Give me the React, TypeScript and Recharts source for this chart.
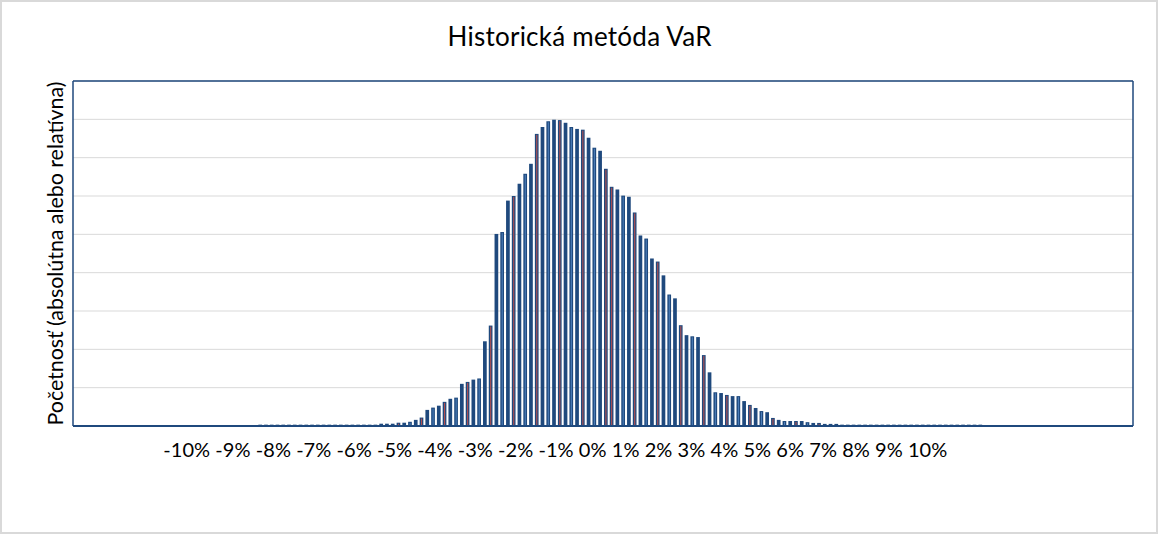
import React from 'react';
import { BarChart, Bar, XAxis, YAxis, CartesianGrid } from 'recharts';

// Frequency per return bin (one gridline = 10 units)
const frequencies: number[] = [
  0, 0, 0, 0, 0, 0, 0, 0, 0, 0, 0, 0, 0, 0, 0, 0,
  0, 0, 0, 0, 0, 0, 0, 0, 0, 0, 0, 0, 0, 0, 0, 0,
  0.35, 0.35, 0.35, 0.35, 0.35, 0.35, 0.35, 0.35, 0.35, 0.35, 0.35,
  0.35, 0.35, 0.35, 0.35, 0.35, 0.35, 0.35, 0.35, 0.35, 0.35,
  0.6, 0.6, 0.6, 0.86, 0.86, 1.1, 1.6, 2.2, 4.2, 4.8, 5.3, 6.3, 7.1, 7.4, 11.0, 11.5,
  12.1, 12.4, 22.1, 26.2, 50.1, 50.6, 58.8, 60.0, 63.2, 65.8, 68.4, 76.2, 78.0, 79.5, 79.9, 79.8,
  79.1, 78.0, 77.5, 77.3, 75.2, 72.6, 71.8, 67.1, 62.4, 61.7, 60.1, 59.8, 55.7, 49.7, 48.9,
  43.7, 42.9, 39.3, 34.3, 33.3, 26.3, 23.7, 23.4, 23.2, 18.5, 14.0, 8.8, 8.6, 8.1, 7.8, 7.8,
  6.5, 5.5, 4.7, 3.9, 3.6, 2.1, 1.6, 1.3, 1.3, 1.3, 1.3, 1.0, 0.8, 0.8, 0.55, 0.55, 0.55,
  0.35, 0.35, 0.35, 0.35, 0.35, 0.35, 0.35, 0.35, 0.35, 0.35, 0.35, 0.35, 0.35,
  0.35, 0.35, 0.35, 0.35, 0.35, 0.35, 0.35, 0.35, 0.35, 0.35, 0.35, 0.35,
  0, 0, 0, 0, 0, 0, 0, 0, 0, 0, 0, 0, 0,
  0, 0, 0, 0, 0, 0, 0, 0, 0, 0, 0, 0, 0,
];

const tickLabels: string[] = [
  '-10%', '-9%', '-8%', '-7%', '-6%', '-5%', '-4%', '-3%', '-2%', '-1%',
  '0%', '1%', '2%', '3%', '4%', '5%', '6%', '7%', '8%', '9%', '10%',
];

const gridTicks: number[] = [0, 10, 20, 30, 40, 50, 60, 70, 80, 90];

const categories: string[] = frequencies.map((_, i) => `bin${i + 1}`);
const chartData = categories.map((bin, i) => ({ bin, freq: frequencies[i] }));

const FONT = "Lato, 'Noto Sans', sans-serif";
const NAVY = '#1F497D';

const BarShape = (props: any) => {
  const { x, y, width, height, index } = props;
  if (!height || height <= 0) return null;
  const phase = (index - 72) / 4.1;
  const d = Math.abs(phase - Math.round(phase));
  let stripe: string | null = null;
  if (d < 0.13) stripe = '#C0504D';
  else if (Math.abs(d - 0.5) < 0.13) stripe = '#4F81BD';
  return (
    <g>
      <rect x={x} y={y} width={width} height={height} fill={NAVY} />
      {stripe && height > 3 ? (
        <rect x={x + width * 0.38} y={y + 1} width={1} height={height - 1} fill={stripe} />
      ) : null}
    </g>
  );
};

const NoTick = () => null;

const LabelRow = (props: any) => {
  const { x, y } = props;
  return (
    <text
      x={x + 1}
      y={y + 23}
      textAnchor="start"
      fontFamily={FONT}
      fontSize={20}
      fill="#000"
      textLength={784}
      lengthAdjust="spacing"
    >
      {tickLabels.join(' ')}
    </text>
  );
};

export default function App() {
  return (
    <div style={{ position: 'absolute', left: 0, top: 0, width: 1159, height: 534, background: '#fff' }}>
      <div
        style={{
          position: 'absolute', left: 0, top: 0, width: 1158, height: 534,
          border: '2px solid #D9D9D9', boxSizing: 'border-box',
        }}
      />
      <div style={{ position: 'absolute', left: 0, top: 0 }}>
        <BarChart
          width={1159}
          height={534}
          data={chartData}
          margin={{ top: 80, right: 25, bottom: 78, left: 72 }}
          barCategoryGap={0}
        >
          <CartesianGrid vertical={false} horizontalValues={gridTicks} stroke="#D9D9D9" strokeWidth={1} />
          <XAxis
            dataKey="bin"
            height={30}
            interval={0}
            ticks={[categories[15]]}
            tick={<LabelRow />}
            tickLine={false}
            axisLine={{ stroke: NAVY, strokeWidth: 2 }}
          />
          <XAxis
            xAxisId="top"
            orientation="top"
            dataKey="bin"
            height={1}
            tick={false}
            tickLine={false}
            axisLine={{ stroke: NAVY, strokeWidth: 1.5 }}
          />
          <YAxis
            domain={[0, 90]}
            ticks={gridTicks}
            interval={0}
            width={1}
            tick={<NoTick />}
            tickLine={false}
            axisLine={{ stroke: NAVY, strokeWidth: 1.5 }}
          />
          <YAxis
            yAxisId="right"
            orientation="right"
            domain={[0, 90]}
            ticks={gridTicks}
            width={1}
            tick={false}
            tickLine={false}
            axisLine={{ stroke: NAVY, strokeWidth: 1.5 }}
          />
          <Bar dataKey="freq" barSize={3.7} shape={BarShape} isAnimationActive={false} />
        </BarChart>
      </div>
      <svg
        width={1159}
        height={534}
        style={{ position: 'absolute', left: 0, top: 0, pointerEvents: 'none' }}
      >
        <text
          x={579.5}
          y={46}
          textAnchor="middle"
          fontFamily={FONT}
          fontSize={26}
          fill="#000"
          textLength={264}
          lengthAdjust="spacing"
        >
          Historická metóda VaR
        </text>
        <text
          transform="translate(62.5,253.5) rotate(-90)"
          textAnchor="middle"
          fontFamily={FONT}
          fontSize={21.5}
          fill="#000"
          textLength={344}
          lengthAdjust="spacing"
        >
          Početnosť (absolútna alebo relatívna)
        </text>
      </svg>
    </div>
  );
}
